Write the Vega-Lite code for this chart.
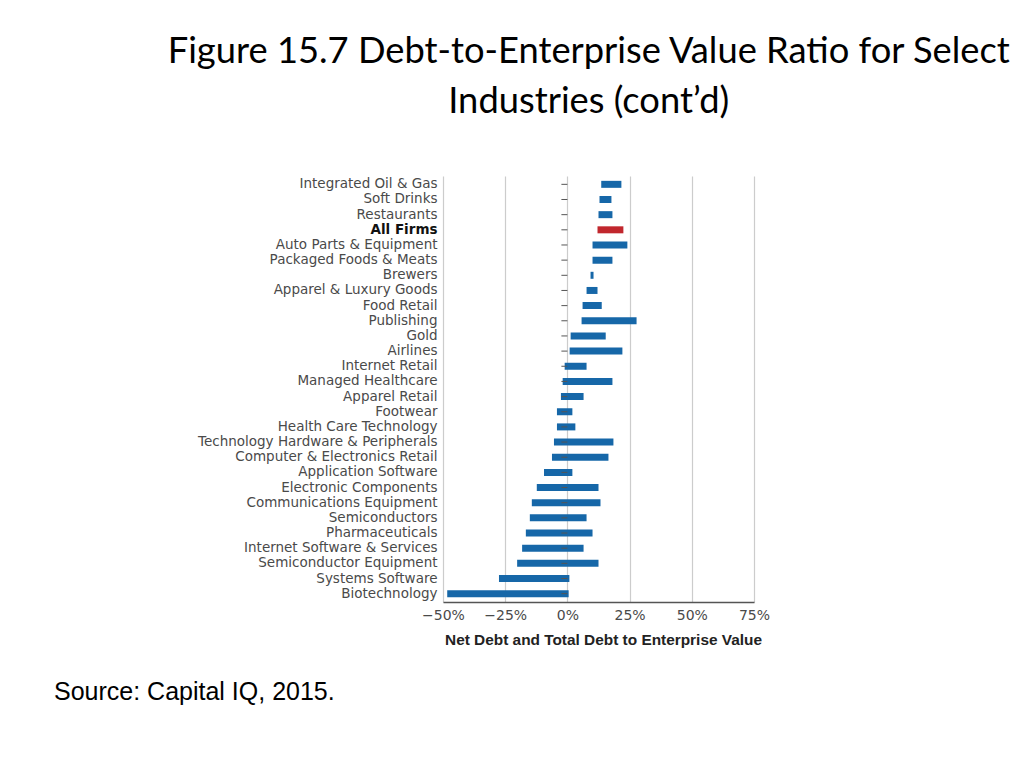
{
  "$schema": "https://vega.github.io/schema/vega-lite/v6.json",
  "background": "white",
  "padding": {"left": 54, "top": 33, "right": 5, "bottom": 5},
  "title": {
    "text": ["Figure 15.7 Debt-to-Enterprise Value Ratio for Select", "Industries (cont’d)"],
    "font": "Lato",
    "fontSize": 36.3,
    "fontWeight": "normal",
    "color": "#000000",
    "anchor": "middle",
    "dx": 177,
    "lineHeight": 50,
    "offset": 56
  },
  "config": {"view": {"stroke": null}},
  "vconcat": [
    {
      "width": 311,
      "height": 426,
      "title": {
        "text": "Source: Capital IQ, 2015.",
        "orient": "bottom",
        "anchor": "start",
        "frame": "group",
        "dx": -389,
        "offset": 33,
        "font": "Liberation Sans",
        "fontSize": 25,
        "fontWeight": "normal",
        "color": "#000000"
      },
      "data": {
        "values": [
          {"industry": "Integrated Oil & Gas", "net": 13.6, "total": 21.7},
          {"industry": "Soft Drinks", "net": 12.9, "total": 17.7},
          {"industry": "Restaurants", "net": 12.5, "total": 18.1},
          {"industry": "All Firms", "net": 12.1, "total": 22.5},
          {"industry": "Auto Parts & Equipment", "net": 10.1, "total": 24.1},
          {"industry": "Packaged Foods & Meats", "net": 10.1, "total": 18.1},
          {"industry": "Brewers", "net": 9.3, "total": 10.5},
          {"industry": "Apparel & Luxury Goods", "net": 7.7, "total": 12.1},
          {"industry": "Food Retail", "net": 6.1, "total": 13.8},
          {"industry": "Publishing", "net": 5.7, "total": 27.8},
          {"industry": "Gold", "net": 1.3, "total": 15.4},
          {"industry": "Airlines", "net": 0.9, "total": 22.1},
          {"industry": "Internet Retail", "net": -1.1, "total": 7.7},
          {"industry": "Managed Healthcare", "net": -1.9, "total": 18.1},
          {"industry": "Apparel Retail", "net": -2.6, "total": 6.5},
          {"industry": "Footwear", "net": -4.2, "total": 2.0},
          {"industry": "Health Care Technology", "net": -4.2, "total": 3.2},
          {"industry": "Technology Hardware & Peripherals", "net": -5.4, "total": 18.5},
          {"industry": "Computer & Electronics Retail", "net": -6.2, "total": 16.5},
          {"industry": "Application Software", "net": -9.4, "total": 2.0},
          {"industry": "Electronic Components", "net": -12.3, "total": 12.5},
          {"industry": "Communications Equipment", "net": -14.3, "total": 13.3},
          {"industry": "Semiconductors", "net": -15.1, "total": 7.7},
          {"industry": "Pharmaceuticals", "net": -16.7, "total": 10.1},
          {"industry": "Internet Software & Services", "net": -18.2, "total": 6.5},
          {"industry": "Semiconductor Equipment", "net": -20.2, "total": 12.5},
          {"industry": "Systems Software", "net": -27.5, "total": 0.8},
          {"industry": "Biotechnology", "net": -48.3, "total": 0.5}
        ]
      },
      "encoding": {
        "y": {
          "field": "industry",
          "type": "nominal",
          "sort": null,
          "scale": {"paddingInner": 0, "paddingOuter": 0.05},
          "axis": {
            "title": null,
            "ticks": false,
            "domain": false,
            "grid": false,
            "labelPadding": 6,
            "labelLimit": 400,
            "labelFont": "DejaVu Sans",
            "labelFontSize": 13.5,
            "labelColor": {"condition": {"test": "datum.value == 'All Firms'", "value": "#111111"}, "value": "#4a4a4a"},
            "labelFontWeight": {"condition": {"test": "datum.value == 'All Firms'", "value": "bold"}, "value": "normal"}
          }
        }
      },
      "layer": [
        {
          "mark": {"type": "bar", "height": 7},
          "encoding": {
            "x": {
              "field": "net",
              "type": "quantitative",
              "scale": {"domain": [-50, 75], "nice": false},
              "axis": {
                "values": [-50, -25, 0, 25, 50, 75],
                "labelExpr": "(datum.value < 0 ? '−' + (-datum.value) : datum.value) + '%'",
                "labelOverlap": false,
                "labelFlush": false,
                "title": "Net Debt and Total Debt to Enterprise Value",
                "titleFont": "Liberation Sans",
                "titleFontSize": 15.4,
                "titleFontWeight": "bold",
                "titleColor": "#222222",
                "titlePadding": 10,
                "titleX": 160,
                "labelFont": "DejaVu Sans",
                "labelFontSize": 14,
                "labelColor": "#4a4a4a",
                "labelPadding": 6,
                "ticks": false,
                "domainColor": "#555555",
                "domainWidth": 1.5,
                "grid": true,
                "gridColor": "#cccccc",
                "gridWidth": 1.2
              }
            },
            "x2": {"field": "total"},
            "color": {
              "condition": {"test": "datum.industry == 'All Firms'", "value": "#c1272d"},
              "value": "#1667a8"
            }
          }
        },
        {
          "mark": {"type": "rule", "color": "#555555", "strokeWidth": 1.5},
          "encoding": {"x": {"datum": 0}}
        },
        {
          "mark": {"type": "point", "shape": "M -1 0 L 0 0", "size": 144, "stroke": "#555555", "strokeWidth": 1, "filled": false, "opacity": 1},
          "encoding": {"x": {"datum": 0}}
        }
      ]
    }
  ]
}
